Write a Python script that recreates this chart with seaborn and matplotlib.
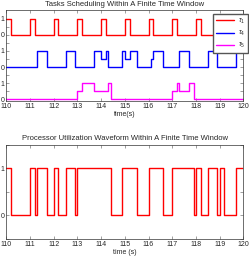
import numpy as np
import pandas as pd
import matplotlib
matplotlib.use("Agg")
import matplotlib.pyplot as plt
import seaborn as sns

# task waveforms (step-post breakpoints)
tau1_t = [110.0, 110.2, 111.0, 111.2, 112.0, 112.2, 113.0, 113.2, 114.0, 114.2,
          115.0, 115.2, 116.0, 116.2, 117.0, 117.2, 118.0, 118.2, 119.0, 119.2, 120.0]
tau1_v = [1, 0, 1, 0, 1, 0, 1, 0, 1, 0, 1, 0, 1, 0, 1, 0, 1, 0, 1, 0, 0]

tau4_t = [110.0, 111.3, 111.7, 112.5, 112.9, 113.7, 114.0, 114.2, 114.3, 114.9, 115.0,
          115.2, 115.5, 116.1, 116.2, 116.6, 117.3, 117.7, 118.5, 118.9, 119.7, 120.0]
tau4_v = [0, 1, 0, 1, 0, 1, 0.5, 1, 0, 1, 0.5, 1, 0, 0.5, 1, 0, 1, 0, 1, 0, 1, 1]

tau5_t = [110.0, 113.0, 113.2, 113.7, 114.3, 114.4, 117.0, 117.2, 117.3, 117.7, 117.9, 120.0]
tau5_v = [0, 0.5, 1, 0.5, 1, 0, 0.5, 1, 0.5, 1, 0, 0]

# processor utilization
util_t = [110.0, 110.2, 111.0, 111.2, 111.3, 111.7, 112.0, 112.2, 112.5, 112.9, 113.0,
          114.4, 114.9, 115.5, 116.0, 116.6, 117.0, 117.9, 118.0, 118.2, 118.5, 118.9,
          119.0, 119.2, 119.7, 120.0]
util_v = [1, 0, 1, 0, 1, 0, 1, 0, 1, 0, 1, 0, 1, 0, 1, 0, 1, 0, 1, 0, 1, 0, 1, 0, 1, 1]

task_names = ["tau1", "tau4", "tau5"]
task_labels = [r"$\tau_1$", r"$\tau_4$", r"$\tau_5$"]
task_offsets = [4, 2, 0]
task_colors = {"tau1": "#ff0000", "tau4": "#0000ff", "tau5": "#ff00ff"}

sns.set_style("ticks")
plt.rcParams["font.family"] = ["Liberation Sans", "DejaVu Sans"]
plt.rcParams["mathtext.fontset"] = "custom"
plt.rcParams["mathtext.rm"] = "Liberation Sans"
plt.rcParams["mathtext.it"] = "Liberation Sans:italic"

frames = []
for name, t, v, off in zip(task_names, [tau1_t, tau4_t, tau5_t], [tau1_v, tau4_v, tau5_v], task_offsets):
    frames.append(pd.DataFrame({"time": t, "level": np.array(v) + off, "task": name}))
tasks = pd.concat(frames, ignore_index=True)
util = pd.DataFrame({"time": util_t, "busy": util_v})

fig = plt.figure(figsize=(2.49, 2.56), dpi=100)
ax1 = fig.add_axes([0.0253, 0.605, 0.952, 0.357])
ax2 = fig.add_axes([0.0253, 0.0664, 0.952, 0.369])

sns.lineplot(data=tasks, x="time", y="level", hue="task", palette=task_colors,
             drawstyle="steps-post", estimator=None, linewidth=1.0, legend=False, ax=ax1)
sns.lineplot(data=util, x="time", y="busy", color="#ff0000",
             drawstyle="steps-post", estimator=None, linewidth=1.0, ax=ax2)

ax1.set_ylim(-0.12, 5.56)
ax1.set_yticks(np.arange(0, 5.01, 0.5))
ax1.set_yticklabels(["0", "", "1", "", "0", "", "1", "", "0", "", "1"])
ax2.set_ylim(-0.5, 1.5)
ax2.set_yticks([-0.5, 0, 0.5, 1, 1.5])
ax2.set_yticklabels(["", "0", "", "1", ""])

for ax in (ax1, ax2):
    ax.set_xlim(110, 120)
    ax.set_xticks(range(110, 121))
    ax.tick_params(top=True, right=True, direction="in", length=2, width=0.4,
                   labelsize=5, pad=1.5, color="#555555")
    for s in ax.spines.values():
        s.set_linewidth(0.5)
        s.set_color("#333333")
        s.set_visible(True)

ax1.set_title("Tasks Scheduling Within A Finite Time Window", fontsize=5.5, pad=2.5)
ax1.set_xlabel("time(s)", fontsize=5, labelpad=0.5)
ax1.set_ylabel("")
ax2.set_title("Processor Utilization Waveform Within A Finite Time Window", fontsize=5.5, pad=3)
ax2.set_xlabel("time (s)", fontsize=5, labelpad=0.5)
ax2.set_ylabel("")

leg = ax1.legend(ax1.get_lines()[:3], task_labels, loc="upper right",
                 bbox_to_anchor=(1.02, 0.955), fontsize=5, frameon=True, fancybox=False,
                 handlelength=2.6, handletextpad=0.6, labelspacing=0.45, borderpad=0.4,
                 borderaxespad=0)
leg.get_frame().set_edgecolor("#555555")
leg.get_frame().set_linewidth(1.0)
leg.get_frame().set_facecolor("white")
leg.get_frame().set_alpha(1)

fig.savefig("out.png", dpi=100)
